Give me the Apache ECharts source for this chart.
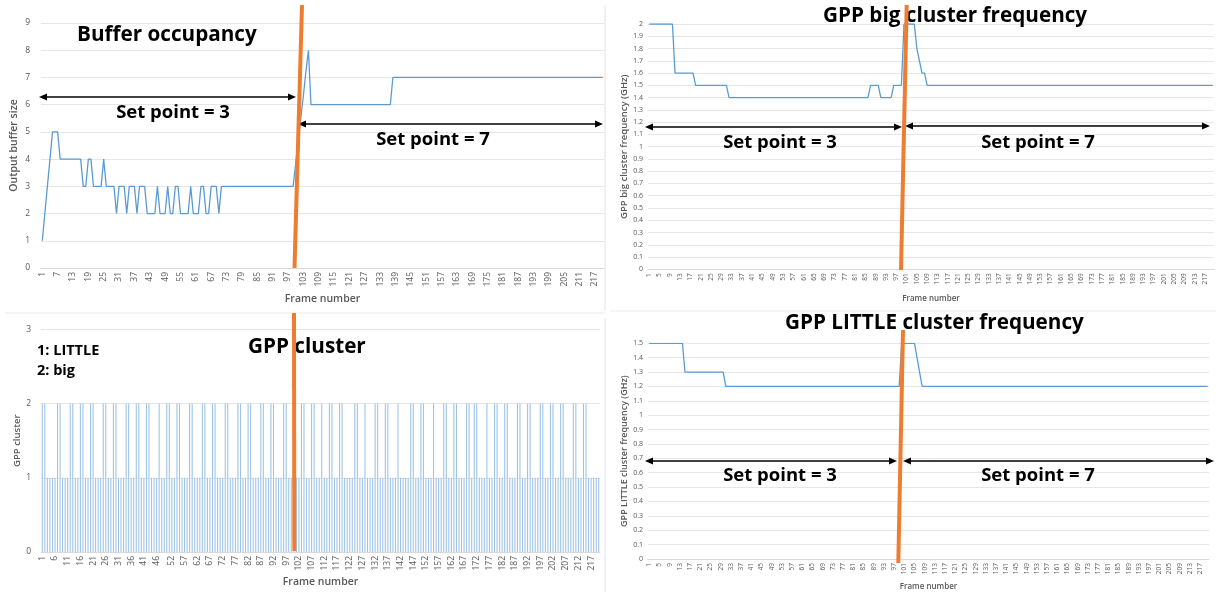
<!DOCTYPE html>
<html>
<head>
<meta charset="utf-8">
<script src="https://cdn.jsdelivr.net/npm/echarts@6/dist/echarts.min.js"></script>
<style>
html,body{margin:0;padding:0;background:#fff;}
#chart{width:1216px;height:592px;}
</style>
</head>
<body>
<div id="chart"></div>
<script>
// ---------- data ----------
const frames = [];
for (let i = 1; i <= 220; i++) frames.push(String(i));

const bufferOccupancy = [
  1,2,3,4,5,5,5,4,4,4,4,4,4,4,4,4,3,3,4,4,
  3,3,3,3,4,3,3,3,3,2,3,3,3,2,3,3,3,2,3,3,
  3,2,2,2,2,3,2,2,2,3,2,2,3,3,2,2,2,2,3,2,
  2,2,3,3,2,2,3,3,3,2,3,3,3,3,3,3,3,3,3,3,
  3,3,3,3,3,3,3,3,3,3,3,3,3,3,3,3,3,3,3,3.8,
  4.7,5.5,6.3,7.2,8,6,6,6,6,6,6,6,6,6,6,6,6,6,6,6,
  6,6,6,6,6,6,6,6,6,6,6,6,6,6,6,6,6,7,7,7,
  7,7,7,7,7,7,7,7,7,7,7,7,7,7,7,7,7,7,7,7,
  7,7,7,7,7,7,7,7,7,7,7,7,7,7,7,7,7,7,7,7,
  7,7,7,7,7,7,7,7,7,7,7,7,7,7,7,7,7,7,7,7,
  7,7,7,7,7,7,7,7,7,7,7,7,7,7,7,7,7,7,7,7
];

const bigFreq = [
  2,2,2,2,2,2,2,2,2,2,1.6,1.6,1.6,1.6,1.6,1.6,1.6,1.6,1.5,1.5,
  1.5,1.5,1.5,1.5,1.5,1.5,1.5,1.5,1.5,1.5,1.5,1.4,1.4,1.4,1.4,1.4,1.4,1.4,1.4,1.4,
  1.4,1.4,1.4,1.4,1.4,1.4,1.4,1.4,1.4,1.4,1.4,1.4,1.4,1.4,1.4,1.4,1.4,1.4,1.4,1.4,
  1.4,1.4,1.4,1.4,1.4,1.4,1.4,1.4,1.4,1.4,1.4,1.4,1.4,1.4,1.4,1.4,1.4,1.4,1.4,1.4,
  1.4,1.4,1.4,1.4,1.4,1.4,1.5,1.5,1.5,1.5,1.4,1.4,1.4,1.4,1.4,1.5,1.5,1.5,1.5,2,
  2,2,2,2,1.8,1.7,1.6,1.6,1.5,1.5,1.5,1.5,1.5,1.5,1.5,1.5,1.5,1.5,1.5,1.5,
  1.5,1.5,1.5,1.5,1.5,1.5,1.5,1.5,1.5,1.5,1.5,1.5,1.5,1.5,1.5,1.5,1.5,1.5,1.5,1.5,
  1.5,1.5,1.5,1.5,1.5,1.5,1.5,1.5,1.5,1.5,1.5,1.5,1.5,1.5,1.5,1.5,1.5,1.5,1.5,1.5,
  1.5,1.5,1.5,1.5,1.5,1.5,1.5,1.5,1.5,1.5,1.5,1.5,1.5,1.5,1.5,1.5,1.5,1.5,1.5,1.5,
  1.5,1.5,1.5,1.5,1.5,1.5,1.5,1.5,1.5,1.5,1.5,1.5,1.5,1.5,1.5,1.5,1.5,1.5,1.5,1.5,
  1.5,1.5,1.5,1.5,1.5,1.5,1.5,1.5,1.5,1.5,1.5,1.5,1.5,1.5,1.5,1.5,1.5,1.5,1.5,1.5
];

const gppCluster = [
  2,2,1,1,1,1,2,2,1,1,1,2,2,1,1,2,2,1,1,2,
  2,1,1,1,2,2,1,1,2,2,1,1,1,2,2,1,1,2,2,1,
  1,2,2,1,1,1,2,1,1,2,2,1,1,2,2,1,1,1,2,2,
  1,1,1,2,2,1,1,2,2,1,1,1,2,2,1,1,1,2,2,1,
  1,2,2,1,1,1,2,2,1,1,2,2,1,1,1,2,2,1,1,1,
  1,1,2,2,1,1,2,2,1,1,2,1,1,2,2,1,1,2,2,1,
  1,1,1,2,2,1,1,2,1,1,1,2,2,1,1,2,2,1,1,1,
  2,1,1,1,1,2,2,1,1,2,2,1,1,1,2,1,1,1,2,2,
  1,1,2,2,1,1,1,2,2,1,2,2,1,1,1,2,1,1,2,2,
  1,1,2,2,1,1,1,2,2,1,1,2,2,1,1,1,2,2,1,1,
  2,2,1,1,2,2,1,1,1,2,2,1,1,2,2,1,1,1,1,1
];

const littleFreq = [
  1.5,1.5,1.5,1.5,1.5,1.5,1.5,1.5,1.5,1.5,1.5,1.5,1.5,1.5,1.3,1.3,1.3,1.3,1.3,1.3,
  1.3,1.3,1.3,1.3,1.3,1.3,1.3,1.3,1.3,1.3,1.2,1.2,1.2,1.2,1.2,1.2,1.2,1.2,1.2,1.2,
  1.2,1.2,1.2,1.2,1.2,1.2,1.2,1.2,1.2,1.2,1.2,1.2,1.2,1.2,1.2,1.2,1.2,1.2,1.2,1.2,
  1.2,1.2,1.2,1.2,1.2,1.2,1.2,1.2,1.2,1.2,1.2,1.2,1.2,1.2,1.2,1.2,1.2,1.2,1.2,1.2,
  1.2,1.2,1.2,1.2,1.2,1.2,1.2,1.2,1.2,1.2,1.2,1.2,1.2,1.2,1.2,1.2,1.2,1.2,1.2,1.5,
  1.5,1.5,1.5,1.5,1.5,1.4,1.3,1.2,1.2,1.2,1.2,1.2,1.2,1.2,1.2,1.2,1.2,1.2,1.2,1.2,
  1.2,1.2,1.2,1.2,1.2,1.2,1.2,1.2,1.2,1.2,1.2,1.2,1.2,1.2,1.2,1.2,1.2,1.2,1.2,1.2,
  1.2,1.2,1.2,1.2,1.2,1.2,1.2,1.2,1.2,1.2,1.2,1.2,1.2,1.2,1.2,1.2,1.2,1.2,1.2,1.2,
  1.2,1.2,1.2,1.2,1.2,1.2,1.2,1.2,1.2,1.2,1.2,1.2,1.2,1.2,1.2,1.2,1.2,1.2,1.2,1.2,
  1.2,1.2,1.2,1.2,1.2,1.2,1.2,1.2,1.2,1.2,1.2,1.2,1.2,1.2,1.2,1.2,1.2,1.2,1.2,1.2,
  1.2,1.2,1.2,1.2,1.2,1.2,1.2,1.2,1.2,1.2,1.2,1.2,1.2,1.2,1.2,1.2,1.2,1.2,1.2,1.2
];

const panelTitles = ['Buffer occupancy', 'GPP big cluster frequency', 'GPP cluster', 'GPP LITTLE cluster frequency'];
const yNames = ['Output buffer size', 'GPP big cluster frequency (GHz)', 'GPP cluster', 'GPP LITTLE cluster frequency (GHz)'];
const xName = 'Frame number';
const setPointLabels = ['Set point = 3', 'Set point = 7'];
const clusterLegend = ['1: LITTLE', '2: big'];

// ---------- styling ----------
const FONT = '"Open Sans", "DejaVu Sans", sans-serif';
const LINE_COLOR = '#5B9BD5';
const BAR_COLOR = '#9DC3E6';
const ORANGE = '#ED7D31';
const GRID_COLOR = '#E6E6E6';
const LABEL_COLOR = '#595959';

function xAxis(gi, fs, interval, gap, nfs) {
  return {
    type: 'category', gridIndex: gi, data: frames, boundaryGap: true,
    axisTick: { show: false },
    axisLine: { lineStyle: { color: '#D9D9D9' } },
    axisLabel: { rotate: 90, fontSize: fs, color: LABEL_COLOR, fontFamily: FONT, interval: interval, margin: 4 },
    name: xName, nameLocation: 'middle', nameGap: gap,
    nameTextStyle: { fontSize: nfs, color: LABEL_COLOR, fontFamily: FONT, fontWeight: 600 }
  };
}
function yAxis(gi, max, step, fs, margin, name, nfs, gap) {
  return {
    type: 'value', gridIndex: gi, min: 0, max: max, interval: step,
    axisLine: { show: false }, axisTick: { show: false },
    splitLine: { lineStyle: { color: GRID_COLOR, width: 1 } },
    axisLabel: { fontSize: fs, color: LABEL_COLOR, fontFamily: FONT, margin: margin },
    name: name, nameLocation: 'middle', nameGap: gap,
    nameTextStyle: { fontSize: nfs, color: LABEL_COLOR, fontFamily: FONT, fontWeight: 600 }
  };
}

const clusterInterval = function (idx) {
  return (idx <= 45 && idx % 5 === 0) || (idx >= 51 && (idx - 51) % 5 === 0);
};

// ---------- annotations ----------
function txt(x, y, s, size, align) {
  return { type: 'text', z: 100, x: x, y: y,
    style: { text: s, fill: '#000', font: 'bold ' + size + 'px ' + FONT, textAlign: align || 'left', textVerticalAlign: 'middle' } };
}
function seg(x1, y1, x2, y2, color, w) {
  return { type: 'line', z: 100, shape: { x1: x1, y1: y1, x2: x2, y2: y2 }, style: { stroke: color, lineWidth: w } };
}
function dblArrow(x1, x2, y) {
  const h = 8, hw = 3.5;
  return [
    seg(x1 + 2, y, x2 - 2, y, '#000', 1.6),
    { type: 'polygon', z: 100, shape: { points: [[x1, y], [x1 + h, y - hw], [x1 + h, y + hw]] }, style: { fill: '#000' } },
    { type: 'polygon', z: 100, shape: { points: [[x2, y], [x2 - h, y - hw], [x2 - h, y + hw]] }, style: { fill: '#000' } }
  ];
}
const TS = 20.7, SS = 18.5;
const graphics = [].concat(
  // faint panel borders
  seg(605, 5, 605, 310, '#E4E4E4', 1),
  seg(605, 318, 605, 592, '#E4E4E4', 1),
  seg(5, 313, 605, 313, '#EBEBEB', 1),
  seg(610, 311, 1216, 311, '#EBEBEB', 1),
  // titles
  txt(77, 35, panelTitles[0], TS),
  txt(823, 16, panelTitles[1], TS),
  txt(248, 347, panelTitles[2], TS),
  txt(785, 323, panelTitles[3], TS),
  txt(37, 351, clusterLegend[0], 14.5),
  txt(37, 371, clusterLegend[1], 14.5),
  // set point arrows & labels
  dblArrow(39, 296, 97), txt(173, 113, setPointLabels[0], SS, 'center'),
  dblArrow(298, 603, 124), txt(433, 140, setPointLabels[1], SS, 'center'),
  dblArrow(645, 902, 127), txt(780, 143, setPointLabels[0], SS, 'center'),
  dblArrow(905, 1210, 126), txt(1038, 143, setPointLabels[1], SS, 'center'),
  dblArrow(645, 897, 461), txt(780, 476, setPointLabels[0], SS, 'center'),
  dblArrow(903, 1214, 461), txt(1038, 476, setPointLabels[1], SS, 'center'),
  // orange separators
  seg(302, 5, 294.5, 268, ORANGE, 4),
  seg(906.7, 5, 901, 270, ORANGE, 4),
  seg(294, 313, 294.3, 551, ORANGE, 4),
  seg(903, 330, 898.3, 563, ORANGE, 4)
);

const chart = echarts.init(document.getElementById('chart'), null, { renderer: 'canvas' });
chart.setOption({
  animation: false,
  backgroundColor: '#fff',
  textStyle: { fontFamily: FONT },
  grid: [
    { left: 41, top: 23, width: 563, height: 245 },
    { left: 648, top: 24, width: 566, height: 245.3 },
    { left: 41, top: 329.4, width: 559, height: 222.6 },
    { left: 648, top: 343.3, width: 561, height: 216.7 }
  ],
  xAxis: [
    xAxis(0, 8.5, 5, 26, 10.5),
    xAxis(1, 6.5, 3, 25, 8),
    xAxis(2, 8.5, clusterInterval, 25, 10.5),
    xAxis(3, 6.5, 3, 24, 8)
  ],
  yAxis: [
    yAxis(0, 9, 1, 8.5, 11, yNames[0], 10.5, 21),
    yAxis(1, 2, 0.1, 7, 5, yNames[1], 9.5, 19),
    yAxis(2, 3, 1, 8.5, 10, yNames[2], 9.5, 16),
    yAxis(3, 1.5, 0.1, 7, 5, yNames[3], 9, 16)
  ],
  series: [
    { type: 'line', xAxisIndex: 0, yAxisIndex: 0, data: bufferOccupancy, symbol: 'none',
      lineStyle: { color: LINE_COLOR, width: 1.3 } },
    { type: 'line', xAxisIndex: 1, yAxisIndex: 1, data: bigFreq, symbol: 'none',
      lineStyle: { color: LINE_COLOR, width: 1.3 } },
    { type: 'bar', xAxisIndex: 2, yAxisIndex: 2, data: gppCluster, barWidth: '42%',
      itemStyle: { color: BAR_COLOR } },
    { type: 'line', xAxisIndex: 3, yAxisIndex: 3, data: littleFreq, symbol: 'none',
      lineStyle: { color: LINE_COLOR, width: 1.3 } }
  ],
  graphic: { elements: graphics }
});
</script>
</body>
</html>
